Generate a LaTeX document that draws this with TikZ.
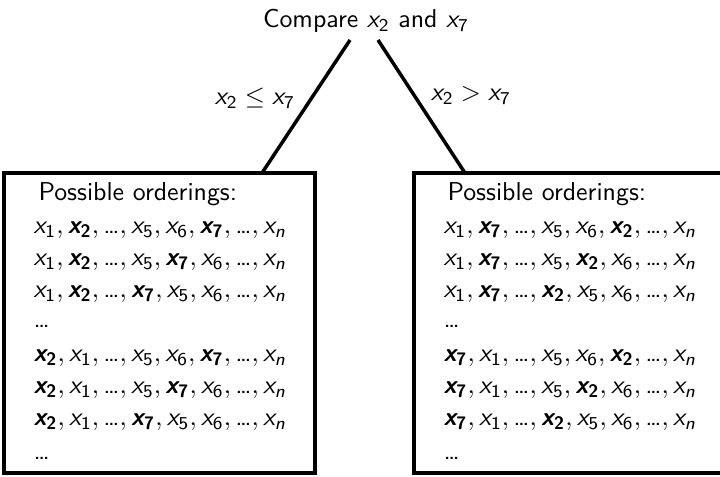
\documentclass[tikz,border=0pt]{standalone}
\usepackage{amsmath}
% sans-serif math letters and digits, as on a slide
\DeclareMathAlphabet{\msl}{TU}{lmss}{m}{sl}
\DeclareMathAlphabet{\mbsl}{TU}{lmss}{bx}{sl}
\DeclareMathAlphabet{\msf}{TU}{lmss}{m}{n}
\DeclareMathAlphabet{\mbsf}{TU}{lmss}{bx}{n}
\newcommand\xx[1]{\msl{x}_{\msf{#1}}}
\newcommand\xb[1]{\mbsl{x}_{\mbsf{#1}}}
\newcommand\xn{\msl{x}_{\msl{n}}}
\newcommand\dd{\text{\sffamily\upshape …}}
\tikzset{
  txt/.style={font=\sffamily, inner sep=0pt},
  row/.style={txt, anchor=west},
  branch/.style={line width=1.35pt},
  orderbox/.style={line width=1.35pt}
}
\begin{document}
\begin{tikzpicture}[x=0.387pt, y=-0.387pt]
  \useasboundingbox (0,0) rectangle (720,476);
  \clip (0,0) rectangle (720,476);

  % root question
  \node[txt] (root) at (366,21) {Compare $\xx2$ and $\xx7$};
  \coordinate (lt) at (350,40);
  \coordinate (rt) at (378,40);

  % the two outcome boxes
  \draw[orderbox] (4,173) rectangle (315,473);
  \draw[orderbox] (414,173) rectangle (740,473);
  \coordinate (lb) at (262,173);
  \coordinate (rb) at (465,173);

  % branches with their conditions
  \draw[branch] (lt) -- (lb);
  \draw[branch] (rt) -- (rb);
  \node[txt] (lcond) at (255,98) {$\xx2 \leq \xx7$};
  \node[txt] (rcond) at (471,96) {$\xx2 > \xx7$};

  % orderings when x2 <= x7
  \node[row] (l0) at (38,194) {Possible orderings:};
  \node[row] (l1) at (33,230) {$\xx1, \xb2, \dd, \xx5, \xx6, \xb7, \dd, \xn$};
  \node[row] (l2) at (33,262) {$\xx1, \xb2, \dd, \xx5, \xb7, \xx6, \dd, \xn$};
  \node[row] (l3) at (33,294) {$\xx1, \xb2, \dd, \xb7, \xx5, \xx6, \dd, \xn$};
  \node[row] (l4) at (33,326) {$\dd$};
  \node[row] (l5) at (33,358) {$\xb2, \xx1, \dd, \xx5, \xx6, \xb7, \dd, \xn$};
  \node[row] (l6) at (33,390) {$\xb2, \xx1, \dd, \xx5, \xb7, \xx6, \dd, \xn$};
  \node[row] (l7) at (33,422) {$\xb2, \xx1, \dd, \xb7, \xx5, \xx6, \dd, \xn$};
  \node[row] (l8) at (33,458) {$\dd$};

  % orderings when x2 > x7
  \node[row] (r0) at (447,194) {Possible orderings:};
  \node[row] (r1) at (443,230) {$\xx1, \xb7, \dd, \xx5, \xx6, \xb2, \dd, \xn$};
  \node[row] (r2) at (443,262) {$\xx1, \xb7, \dd, \xx5, \xb2, \xx6, \dd, \xn$};
  \node[row] (r3) at (443,294) {$\xx1, \xb7, \dd, \xb2, \xx5, \xx6, \dd, \xn$};
  \node[row] (r4) at (443,326) {$\dd$};
  \node[row] (r5) at (443,358) {$\xb7, \xx1, \dd, \xx5, \xx6, \xb2, \dd, \xn$};
  \node[row] (r6) at (443,390) {$\xb7, \xx1, \dd, \xx5, \xb2, \xx6, \dd, \xn$};
  \node[row] (r7) at (443,422) {$\xb7, \xx1, \dd, \xb2, \xx5, \xx6, \dd, \xn$};
  \node[row] (r8) at (443,458) {$\dd$};
\end{tikzpicture}
\end{document}
